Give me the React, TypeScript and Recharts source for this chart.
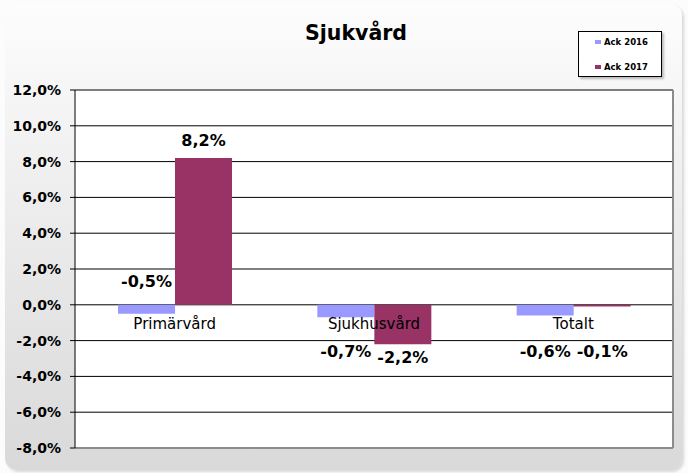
import {
  BarChart,
  Bar,
  XAxis,
  YAxis,
  CartesianGrid,
  Legend,
  LabelList,
  ReferenceDot,
} from "recharts";

// === Data ===
const categories = ["Primärvård", "Sjukhusvård", "Totalt"];
const ack2016 = [-0.5, -0.7, -0.6];
const ack2017 = [8.2, -2.2, -0.1];
const yTicks = [-8, -6, -4, -2, 0, 2, 4, 6, 8, 10, 12];

const data = categories.map((name, i) => ({
  name,
  ack2016: ack2016[i],
  ack2017: ack2017[i],
}));

const FONT = "'DejaVu Sans', sans-serif";
const fmt = (v: number) => v.toFixed(1).replace(".", ",") + "%";

// value labels: positive above the bar, negative below the category label,
// unless the other bar in the group is positive (then above the zero line)
const makeLabel = (other: number[]) => (props: any) => {
  const { x, y, width, height, value, index } = props;
  const top = Math.min(y, y + height);
  const bottom = Math.max(y, y + height);
  const cx = x + width / 2;
  let cy: number;
  if (value >= 0) cy = top - 18;
  else if (other[index] > 0) cy = top - 23;
  else cy = Math.max(bottom + 13, top + 47);
  return (
    <text
      x={cx}
      y={cy}
      textAnchor="middle"
      dominantBaseline="central"
      fontFamily={FONT}
      fontWeight="bold"
      fontSize={16}
      fill="#000"
    >
      {fmt(value)}
    </text>
  );
};

const renderLegend = (props: any) => {
  const { payload } = props;
  return (
    <div
      style={{
        width: 84,
        height: 46,
        background: "#fff",
        border: "1px solid #000",
        boxShadow: "2px 2px 2px rgba(0,0,0,0.25)",
        fontFamily: FONT,
        fontWeight: "bold",
        fontSize: 8.5,
        color: "#000",
        paddingTop: 3,
        boxSizing: "border-box",
      }}
    >
      {(payload || []).map((p: any) => (
        <div
          key={p.value}
          style={{ display: "flex", alignItems: "center", height: 13, marginBottom: 12, paddingLeft: 16 }}
        >
          <span style={{ width: 6, height: 4, background: p.color, marginRight: 3 }} />
          {p.value}
        </div>
      ))}
    </div>
  );
};

export default function App() {
  return (
    <div style={{ position: "absolute", left: 0, top: 0, width: 688, height: 473, background: "#fcfcfc" }}>
      <div
        style={{
          position: "absolute",
          left: 5,
          top: 4,
          width: 677,
          height: 466,
          borderRadius: 12,
          background: "linear-gradient(to bottom, #fdfdfd 0%, #ececec 45%, #d9d9d9 100%)",
          boxShadow: "2px 2px 3px rgba(0,0,0,0.15)",
        }}
      />
      <div
        style={{
          position: "absolute",
          left: 256,
          top: 21,
          width: 200,
          textAlign: "center",
          fontFamily: FONT,
          fontWeight: "bold",
          fontSize: 20.5,
          color: "#000",
        }}
      >
        Sjukvård
      </div>
      <div style={{ position: "absolute", left: 0, top: 0 }}>
        <BarChart
          width={688}
          height={473}
          data={data}
          margin={{ top: 90, right: 15, bottom: 25, left: 5 }}
          barGap={0}
        >
          <CartesianGrid vertical={false} stroke="#000" strokeOpacity={1} fill="#fff" fillOpacity={1} />
          <CartesianGrid
            stroke="#8c8c8c"
            strokeWidth={2}
            horizontalCoordinatesGenerator={({ offset }: any) => [offset.top + offset.height]}
            verticalCoordinatesGenerator={({ offset }: any) => [offset.left + offset.width]}
          />
          <XAxis dataKey="name" tick={false} tickLine={false} axisLine={false} height={0} />
          <YAxis
            domain={[-8, 12]}
            ticks={yTicks}
            interval={0}
            width={70}
            tickFormatter={fmt}
            axisLine={{ stroke: "#000" }}
            tickLine={{ stroke: "#000" }}
            tickSize={5}
            tickMargin={9}
            tick={{ fill: "#000", fontFamily: FONT, fontWeight: "bold", fontSize: 14 }}
          />
          <Legend
            layout="vertical"
            align="center"
            verticalAlign="middle"
            wrapperStyle={{ position: "absolute", left: 578, top: 31, width: 86, height: 47 }}
            content={renderLegend}
          />
          <Bar dataKey="ack2016" name="Ack 2016" fill="#9999ff" barSize={57} isAnimationActive={false}>
            <LabelList dataKey="ack2016" content={makeLabel(ack2017)} />
          </Bar>
          <Bar dataKey="ack2017" name="Ack 2017" fill="#993366" barSize={57} isAnimationActive={false}>
            <LabelList dataKey="ack2017" content={makeLabel(ack2016)} />
          </Bar>
          {categories.map((c) => (
            <ReferenceDot
              key={c}
              x={c}
              y={0}
              r={0}
              fill="none"
              stroke="none"
              label={{ value: c, position: "bottom", offset: 14, fill: "#000", fontSize: 15, fontFamily: FONT }}
            />
          ))}
        </BarChart>
      </div>
    </div>
  );
}
